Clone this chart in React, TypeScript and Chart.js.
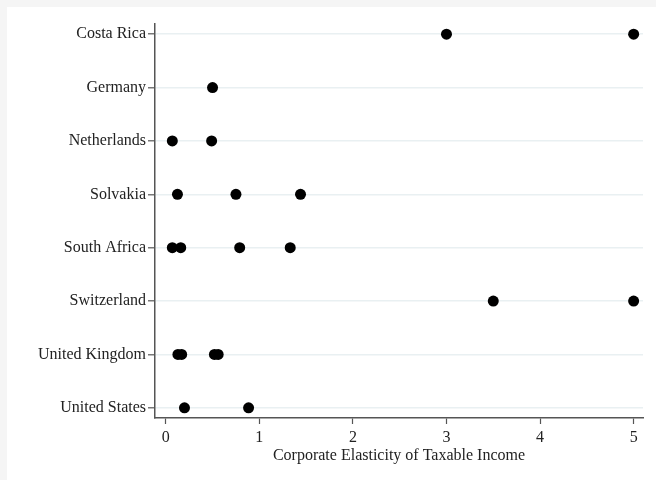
import React, { useEffect, useRef } from "react";
import { Chart, registerables } from "chart.js";

Chart.register(...registerables);

const categories = [
  "Costa Rica",
  "Germany",
  "Netherlands",
  "Solvakia",
  "South Africa",
  "Switzerland",
  "United Kingdom",
  "United States",
];

const costaRica = [3.0, 5.0];
const germany = [0.5];
const netherlands = [0.07, 0.49];
const solvakia = [0.125, 0.75, 1.44];
const southAfrica = [0.07, 0.16, 0.79, 1.33];
const switzerland = [3.5, 5.0];
const unitedKingdom = [0.13, 0.17, 0.52, 0.56];
const unitedStates = [0.2, 0.885];

const valuesByCategory = [
  costaRica,
  germany,
  netherlands,
  solvakia,
  southAfrica,
  switzerland,
  unitedKingdom,
  unitedStates,
];

const xTicks = [0, 1, 2, 3, 4, 5];
const xTitle = "Corporate Elasticity of Taxable Income";

const FONT = "'Liberation Serif', 'Times New Roman', serif";

export default function App() {
  const ref = useRef<HTMLCanvasElement | null>(null);

  useEffect(() => {
    if (!ref.current) return;
    const points: { x: number; y: number }[] = [];
    valuesByCategory.forEach((vals, i) => {
      vals.forEach((v) => points.push({ x: v, y: i }));
    });
    const chart = new Chart(ref.current, {
      type: "scatter",
      data: {
        datasets: [
          {
            data: points,
            backgroundColor: "#000000",
            borderColor: "#000000",
            pointRadius: 5.5,
            pointHoverRadius: 5.5,
            borderWidth: 0,
          },
        ],
      },
      options: {
        animation: false,
        responsive: false,
        maintainAspectRatio: false,
        layout: { padding: { top: 17, right: 13, left: 0, bottom: 15 } },
        plugins: {
          legend: { display: false },
          tooltip: { enabled: false },
        },
        scales: {
          x: {
            type: "linear",
            min: -0.115,
            max: 5.1,
            afterBuildTicks: (axis: any) => {
              axis.ticks = xTicks.map((v) => ({ value: v }));
            },
            afterFit: (axis: any) => {
              axis.height = 47;
            },
            grid: {
              drawOnChartArea: false,
              drawTicks: true,
              tickLength: 6,
              tickColor: "#555555",
              tickWidth: 1.2,
            },
            border: { display: true, color: "#555555", width: 1.5 },
            ticks: {
              color: "#222222",
              padding: 4,
              font: { family: FONT, size: 16 },
              callback: (v: any) => String(v),
            },
            title: {
              display: true,
              text: xTitle,
              color: "#222222",
              padding: { top: 0, bottom: 0 },
              font: { family: FONT, size: 16 },
            },
          },
          y: {
            type: "linear",
            reverse: true,
            min: -0.19,
            max: categories.length - 1 + 0.19,
            afterBuildTicks: (axis: any) => {
              axis.ticks = categories.map((_, i) => ({ value: i }));
            },
            afterFit: (axis: any) => {
              axis.width = 148;
            },
            grid: {
              color: "#e9f0f2",
              lineWidth: 1.6,
              drawTicks: true,
              tickLength: 7,
              tickColor: "#555555",
              tickWidth: 1.2,
            },
            border: { display: true, color: "#555555", width: 1.5 },
            ticks: {
              color: "#222222",
              padding: 2,
              font: { family: FONT, size: 16 },
              callback: (v: any) => categories[Math.round(Number(v))] ?? "",
            },
          },
        },
      },
    });
    return () => chart.destroy();
  }, []);

  return (
    <div
      style={{
        position: "absolute",
        left: 0,
        top: 0,
        width: 656,
        height: 480,
        background: "#f5f5f5",
        overflow: "hidden",
      }}
    >
      <div
        style={{
          position: "absolute",
          left: 7,
          top: 7,
          width: 649,
          height: 473,
          background: "#ffffff",
        }}
      >
        <canvas ref={ref} width={649} height={473} style={{ display: "block" }} />
      </div>
    </div>
  );
}
